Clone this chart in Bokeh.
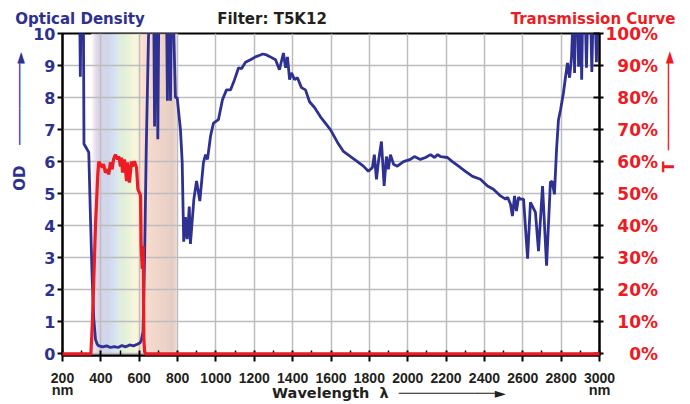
import numpy as np
from bokeh.plotting import figure
from bokeh.models import Range1d, LinearAxis, FixedTicker
from bokeh.embed import file_html
from bokeh.resources import INLINE

# ---------------- data ----------------
wavelength_od = [200, 290, 293, 296, 309, 312, 322, 337, 346, 355, 363, 372, 381, 390, 410, 430, 450,
                 470, 490, 510, 530, 550, 570, 590, 605, 612, 620, 628, 637, 648, 652, 676, 680, 684,
                 692, 697, 702, 743, 747, 751, 759, 763, 767, 778, 789, 798, 815, 824, 832, 841, 850,
                 861, 867, 885, 899, 916, 935, 946, 956, 972, 987, 1013, 1034, 1055, 1076, 1097, 1118,
                 1133, 1154, 1180, 1206, 1232, 1243, 1264, 1284, 1311, 1331, 1352, 1363, 1373, 1384,
                 1394, 1410, 1425, 1446, 1467, 1488, 1514, 1545, 1597, 1634, 1665, 1702, 1738, 1769,
                 1795, 1816, 1826, 1837, 1847, 1863, 1877, 1889, 1899, 1910, 1926, 1946, 1978, 2014,
                 2035, 2066, 2093, 2119, 2140, 2156, 2171, 2207, 2233, 2265, 2301, 2338, 2379, 2416,
                 2447, 2484, 2510, 2521, 2536, 2546, 2557, 2567, 2578, 2588, 2604, 2625, 2640, 2666,
                 2682, 2703, 2724, 2744, 2753, 2765, 2776, 2786, 2797, 2812, 2823, 2833, 2844, 2854,
                 2862, 2866, 2870, 2875, 2886, 2891, 2896, 2902, 2907, 2912, 2926, 2932, 2938, 2954,
                 2960, 2966, 2978, 2984, 2988, 3000]
optical_density = [10.5, 10.5, 8.65, 10.5, 10.5, 6.55, 6.45, 6.29, 4.2, 2.3, 1.1, 0.45, 0.3, 0.25, 0.22,
                   0.25, 0.2, 0.23, 0.2, 0.26, 0.22, 0.28, 0.25, 0.3, 0.35, 0.45, 0.7, 3.0, 6.5, 9.8,
                   10.5, 10.5, 7.1, 10.5, 10.5, 6.7, 10.5, 10.5, 7.9, 10.5, 10.5, 7.9, 10.5, 10.5, 8.0,
                   8.0, 7.0, 6.0, 3.5, 4.27, 3.58, 4.6, 3.43, 4.83, 5.4, 4.77, 5.98, 6.22, 6.07, 6.8,
                   7.2, 7.31, 7.93, 8.24, 8.24, 8.56, 8.93, 8.9, 9.1, 9.18, 9.27, 9.33, 9.36, 9.33,
                   9.27, 9.18, 8.87, 9.39, 8.93, 9.27, 8.56, 8.77, 8.56, 8.62, 8.31, 8.24, 7.87, 7.69,
                   7.4, 7.0, 6.6, 6.32, 6.16, 6.0, 5.86, 5.7, 5.82, 6.22, 5.45, 5.98, 6.63, 5.24, 6.16,
                   5.76, 6.22, 5.92, 5.86, 6.0, 6.07, 6.16, 6.07, 6.13, 6.22, 6.13, 6.22, 6.16, 6.13,
                   6.0, 5.86, 5.7, 5.54, 5.45, 5.24, 5.14, 4.93, 4.83, 4.89, 4.67, 4.3, 4.93, 4.46,
                   4.89, 4.83, 4.83, 2.97, 4.73, 4.42, 3.21, 5.24, 2.75, 5.36, 5.39, 4.98, 6.38, 7.3,
                   7.62, 8.15, 8.65, 9.08, 8.62, 9.24, 10.5, 10.5, 8.77, 10.5, 10.5, 8.96, 10.5, 10.5,
                   8.56, 10.5, 10.5, 8.93, 10.5, 10.5, 8.8, 10.5, 10.5, 9.1, 10.5, 10.5]

wavelength_t = [200, 348, 356, 372, 384, 389, 407, 414, 424, 435, 441, 450, 459, 466, 476, 487, 494,
                502, 508, 513, 523, 534, 539, 549, 560, 565, 575, 586, 593, 605, 607, 610, 616, 621,
                624, 628, 633, 3000]
transmission_pct = [0, 0, 10, 40, 56, 60, 58.2, 59.2, 56.6, 57.6, 56, 59.8, 57.6, 60.7, 62.2, 60.7,
                    61.6, 58.5, 61.3, 56.6, 60.7, 53.9, 59.8, 53.5, 60.1, 58.5, 60.1, 58.2, 51.4, 49.8,
                    49.2, 33.7, 26.5, 33.7, 4.8, 0.8, 0, 0]

x_ticks = list(range(200, 3001, 200))
x_minor_ticks = list(range(300, 3000, 200))
od_ticks = list(range(0, 11))
t_ticks = list(range(0, 101, 10))
t_tick_labels = ["0%", "10%", "20%", "30%", "40%", "50%", "60%", "70%", "80%", "90%", "100%"]

header_left = "Optical Density"
header_mid = "Filter: T5K12"
header_right = "Transmission Curve"
od_title = "OD"
t_title = "T"
x_title = "Wavelength"
unit = "nm"

# visible-spectrum background band (colour stops)
band_stops_nm = [350, 362, 378, 398, 440, 470, 495, 515, 550, 575, 598, 606, 650, 720, 775, 792, 800]
band_stops_rgb = [(255, 255, 255), (243, 233, 243), (221, 208, 230), (205, 203, 227), (201, 207, 230),
                  (205, 220, 238), (216, 233, 228), (220, 234, 210), (232, 240, 208), (246, 244, 212),
                  (251, 240, 212), (250, 219, 203), (244, 211, 196), (235, 203, 189), (224, 195, 184),
                  (230, 210, 204), (255, 255, 255)]

BLUE = "#2e3192"
RED = "#ed1c24"
INK = "#231f20"
GRID = "#bdbdbd"
NB = "\u00a0"
SHAFT = "\u2500"
HEAD = "\u25ba"

X0, X1 = 200, 3000
Y0, Y1 = -0.05, 10
T0, T1 = -0.5, 100
FL, FW = 62, 537   # frame left / width on the page (px)


def sx(px):
    return X0 + (px - FL) * (X1 - X0) / FW


def label_only(ax, color, font, size, standoff):
    ax.axis_line_color = None
    ax.major_tick_line_color = None
    ax.minor_tick_line_color = None
    ax.major_tick_in = 0
    ax.major_tick_out = 0
    ax.minor_tick_in = 0
    ax.minor_tick_out = 0
    ax.major_label_standoff = standoff
    ax.major_label_text_font = font
    ax.major_label_text_font_style = "bold"
    ax.major_label_text_font_size = size
    ax.major_label_text_color = color


p = figure(width=690, height=404, min_border_left=62, min_border_right=91,
           min_border_top=33, min_border_bottom=49,
           x_range=Range1d(X0, X1), y_range=Range1d(Y0, Y1),
           output_backend="svg", toolbar_location=None)
p.extra_y_ranges = {"T": Range1d(T0, T1)}
p.outline_line_color = "black"
p.outline_line_width = 2
p.background_fill_color = "white"
p.border_fill_color = "white"

# spectrum band
bx = np.arange(band_stops_nm[0], band_stops_nm[-1], 3.0)
rr = np.interp(bx + 1.5, band_stops_nm, [c[0] for c in band_stops_rgb])
gg = np.interp(bx + 1.5, band_stops_nm, [c[1] for c in band_stops_rgb])
bb = np.interp(bx + 1.5, band_stops_nm, [c[2] for c in band_stops_rgb])
band_cols = ["#%02x%02x%02x" % (int(r), int(g), int(b)) for r, g, b in zip(rr, gg, bb)]
p.quad(left=bx, right=bx + 3.6, bottom=Y0, top=Y1, fill_color=band_cols, line_color=None, level="image")

# grid
p.xgrid.ticker = FixedTicker(ticks=x_ticks)
p.ygrid.ticker = FixedTicker(ticks=od_ticks)
p.grid.grid_line_color = GRID
p.grid.grid_line_width = 1.5

# curves
p.line(wavelength_od, optical_density, line_color=BLUE, line_width=2.8)
p.line(wavelength_t, transmission_pct, y_range_name="T", line_color=RED, line_width=3.2, level="overlay")

# bottom axis (numbers)
xa = p.xaxis[0]
xa.ticker = FixedTicker(ticks=x_ticks, minor_ticks=x_minor_ticks)
xa.axis_line_width = 2
xa.major_tick_in = 5
xa.major_tick_out = 6
xa.major_tick_line_width = 2
xa.minor_tick_in = 5
xa.minor_tick_out = 0
xa.minor_tick_line_width = 1.5
xa.major_label_text_font = "Liberation Sans"
xa.major_label_text_font_style = "bold"
xa.major_label_text_font_size = "14px"
xa.major_label_text_color = INK
xa.major_label_standoff = 11

# second bottom row: unit labels + axis title
ua = LinearAxis(ticker=FixedTicker(ticks=[x_ticks[0], x_ticks[-1]], minor_ticks=[]),
                major_label_overrides={x_ticks[0]: unit, x_ticks[-1]: unit})
label_only(ua, INK, "Liberation Sans", "14.5px", -4)
ua.axis_label = NB * 23 + x_title + NB * 2 + "λ" + NB * 2 + SHAFT * 11 + HEAD
ua.axis_label_text_font = "DejaVu Sans"
ua.axis_label_text_font_style = "bold"
ua.axis_label_text_font_size = "14.5px"
ua.axis_label_text_color = INK
ua.axis_label_standoff = -16
p.add_layout(ua, "below")

# left axis
ya = p.yaxis[0]
ya.ticker = FixedTicker(ticks=od_ticks)
ya.axis_line_width = 2
ya.major_tick_in = 0
ya.major_tick_out = 5
ya.major_tick_line_width = 2
ya.minor_tick_line_color = None
ya.major_label_text_font = "DejaVu Sans"
ya.major_label_text_font_style = "bold"
ya.major_label_text_font_size = "16px"
ya.major_label_text_color = BLUE
ya.major_label_standoff = 2
ya.axis_label = NB * 28 + od_title + NB * 4 + SHAFT * 9 + HEAD
ya.axis_label_text_font = "DejaVu Sans"
ya.axis_label_text_font_style = "bold"
ya.axis_label_text_font_size = "15px"
ya.axis_label_text_color = BLUE
ya.axis_label_standoff = 1

# right axis
ra = LinearAxis(y_range_name="T", ticker=FixedTicker(ticks=t_ticks))
longest = max(len(s) for s in t_tick_labels)
ra.major_label_overrides = {t: NB * (2 * (longest - len(s))) + s for t, s in zip(t_ticks, t_tick_labels)}
ra.axis_line_width = 2
ra.major_tick_in = 6
ra.major_tick_out = 4
ra.major_tick_line_width = 2
ra.minor_tick_line_color = None
ra.major_label_text_font = "DejaVu Sans"
ra.major_label_text_font_style = "bold"
ra.major_label_text_font_size = "17px"
ra.major_label_text_color = RED
ra.major_label_standoff = 2
ra.axis_label_text_font = "DejaVu Sans"
ra.axis_label_text_font_style = "bold"
ra.axis_label_text_font_size = "16px"
ra.axis_label_text_color = RED
ra.axis_label_standoff = 7
ra.axis_label_orientation = np.pi / 2
ra.axis_label = NB * 4 + t_title + NB * 2 + SHAFT * 9 + HEAD
p.add_layout(ra, "right")

# headers: label-only axes above the frame, overlapped onto one row
HEADER_STANDOFF = 6
HEADER_H = 21
for i, (cpx, txt, col) in enumerate(((79.5, header_left, BLUE), (271.5, header_mid, INK),
                                     (592.5, header_right, RED))):
    cx = sx(cpx)
    hx = LinearAxis(ticker=FixedTicker(ticks=[cx], minor_ticks=[]), major_label_overrides={cx: txt})
    label_only(hx, col, "DejaVu Sans", "15px", HEADER_STANDOFF if i == 0 else -HEADER_H)
    p.add_layout(hx, "above")

open("out.html", "w").write(file_html(p, INLINE))
